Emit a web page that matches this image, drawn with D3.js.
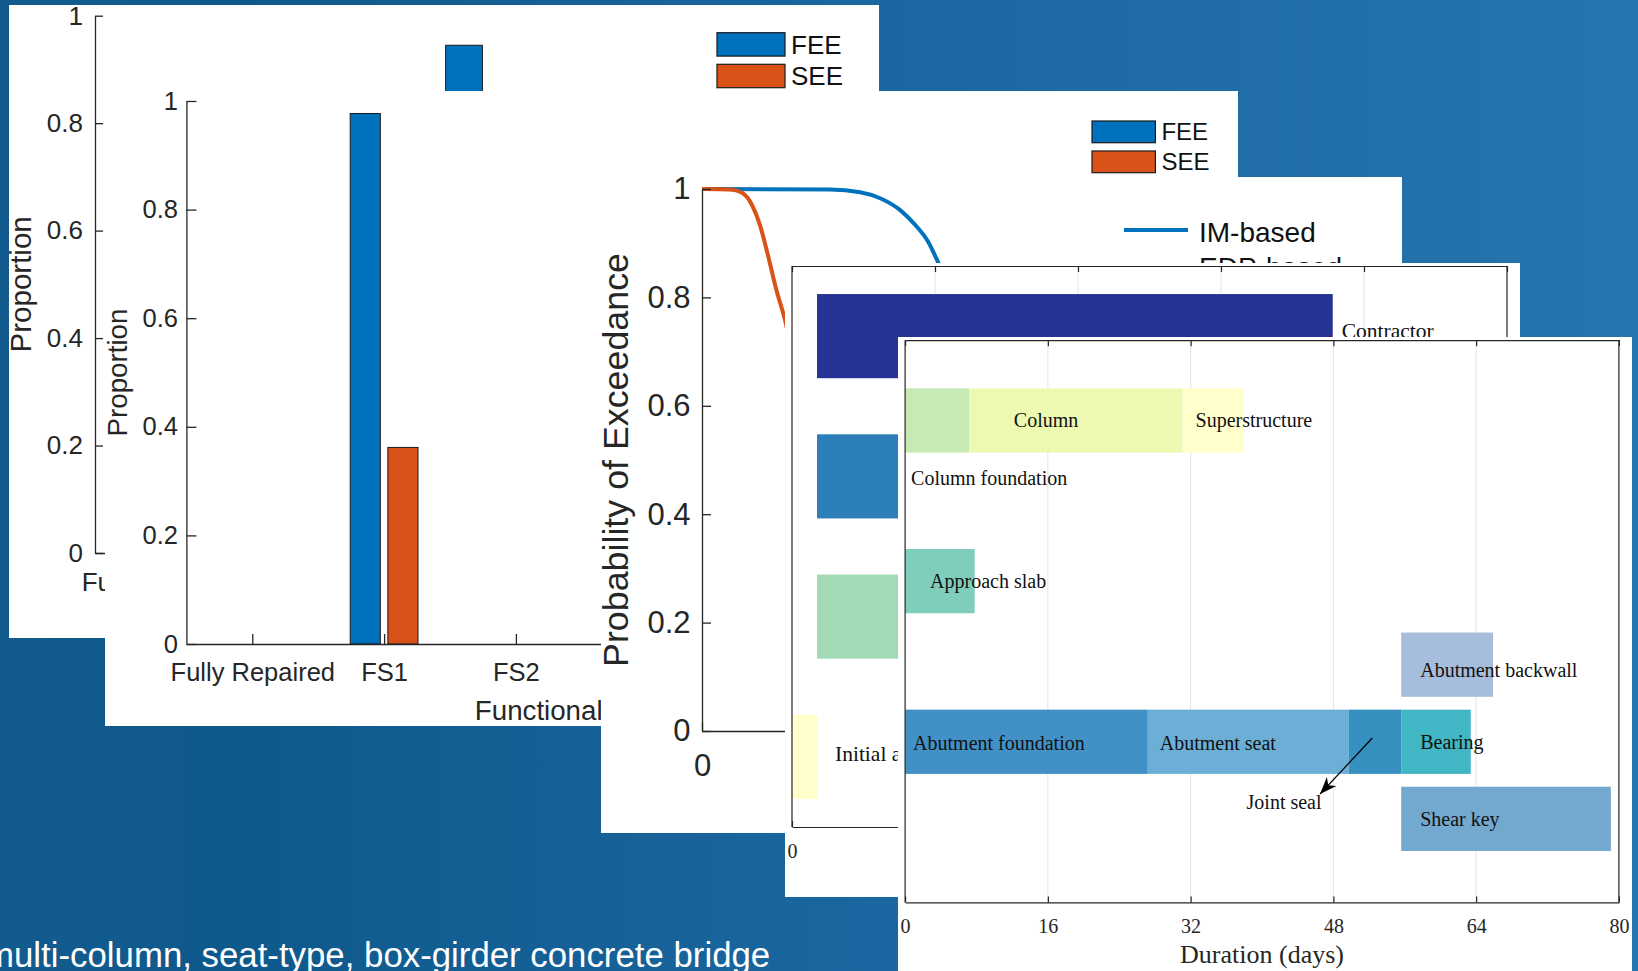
<!DOCTYPE html>
<html>
<head>
<meta charset="utf-8">
<script src="https://cdn.jsdelivr.net/npm/d3@7"></script>
<style>
  html, body { margin: 0; padding: 0; overflow: hidden; background: #1a64a0; }
  svg { display: block; }
</style>
</head>
<body>
<svg id="slide" width="1638" height="971"></svg>
<script>
// ---------------- data ----------------
// Functional-state distributions (grouped bar charts)
const stateLabels = ["Fully Repaired", "FS1", "FS2", "FS3", "FS4", "FS5"];
const hazardLevels = ["FEE", "SEE"];
const bridgeA_FEE = [0, 0, 0.945, 0, 0, 0];
const bridgeA_SEE = [0, 0, 0, 0, 0, 0];
const bridgeB_FEE = [0, 0.977, 0, 0, 0, 0];
const bridgeB_SEE = [0, 0.362, 0, 0, 0, 0];
const proportionTicks = [0, 0.2, 0.4, 0.6, 0.8, 1];

// Probability of exceedance curves
const curveNames = ["IM-based", "EDP-based"];
const imX  = [0, 0.575, 0.71, 0.80, 0.89, 0.957, 1.015, 1.06, 1.2, 1.4, 1.6, 1.8, 2.0, 2.4, 3.0];
const imP  = [1, 0.999, 0.994, 0.983, 0.961, 0.934, 0.903, 0.865, 0.72, 0.50, 0.30, 0.16, 0.08, 0.02, 0];
const edpX = [0, 0.126, 0.18, 0.225, 0.26, 0.296, 0.332, 0.373, 0.45, 0.55, 0.70, 0.90, 1.2, 1.6];
const edpP = [1, 0.999, 0.993, 0.970, 0.934, 0.878, 0.817, 0.758, 0.60, 0.40, 0.20, 0.07, 0.01, 0];
const exceedTicks = [0, 0.2, 0.4, 0.6, 0.8, 1];
const imTicks = [0, 0.5, 1, 1.5, 2, 2.5, 3];

// Impeding factors (days)
const impedingFactors = ["Contractor", "Engineering", "Financing", "Initial assessment"];
const impedingStart = [2.8, 2.8, 2.8, 0];
const impedingEnd   = [60.5, 30.0, 20.0, 2.8];

// Repair sequence (days)
const repairTasks = ["Column foundation", "Column", "Superstructure", "Approach slab",
  "Abutment backwall", "Abutment foundation", "Abutment seat", "Joint seal", "Bearing", "Shear key"];
const taskStart = [0, 7.2, 31.1, 0, 55.6, 0, 27.2, 49.7, 55.6, 55.6];
const taskEnd   = [7.2, 31.1, 37.9, 7.8, 65.9, 27.2, 49.7, 55.6, 63.4, 79.1];
const taskRow   = [1, 1, 1, 3, 4.04, 5, 5, 5, 5, 5.96];
const durationTicks = [0, 16, 32, 48, 64, 80];

const footnote = "multi-column, seat-type, box-girder concrete bridge";

// ---------------- styles ----------------
const SANS = "'Liberation Sans', Arial, Helvetica, sans-serif";
const SERIF = "'Liberation Serif', 'Times New Roman', serif";
const AXIS = "#262626";
const seriesColors = ["#0072BD", "#D95319"];
const curveColors = ["#0072BD", "#D95319"];
const impedingColors = ["#253494", "#2c7fb8", "#a1dab4", "#ffffcc"];
const taskColors = ["#c7e9b4", "#edf8b1", "#ffffcc", "#7fcdbb", "#a6bddb",
  "#4191c6", "#6baed6", "#3690c0", "#41b6c4", "#74a9cf"];

const svg = d3.select("#slide");
const defs = svg.append("defs");

// slide background
const grad = defs.append("linearGradient").attr("id", "slideBg")
  .attr("x1", 0).attr("y1", 0).attr("x2", 1).attr("y2", 0);
[[0, "#135b8f"], [0.14, "#0e598b"], [0.55, "#1b67a1"], [1, "#2675ae"]]
  .forEach(([o, c]) => grad.append("stop").attr("offset", o).attr("stop-color", c));
svg.append("rect").attr("width", 1638).attr("height", 971).attr("fill", "url(#slideBg)");

// white figure card, clipped to its own frame
function card(id, x, y, w, h) {
  defs.append("clipPath").attr("id", id)
    .append("rect").attr("x", x).attr("y", y).attr("width", w).attr("height", h);
  const g = svg.append("g").attr("clip-path", `url(#${id})`);
  g.append("rect").attr("x", x).attr("y", y).attr("width", w).attr("height", h).attr("fill", "#fff");
  return g;
}

function styleAxis(sel, size, family, width) {
  sel.attr("font-size", size).attr("font-family", family);
  sel.selectAll("text").attr("fill", AXIS);
  sel.selectAll("line, path").attr("stroke", AXIS).attr("stroke-width", width || 1.3);
}

// ---------------- grouped bar chart ----------------
function stateBarChart(g, cfg) {
  const n = stateLabels.length;
  const x = d3.scaleLinear().domain([cfg.xStart, n + 0.5]).range(cfg.xRange);
  const y = d3.scaleLinear().domain([0, 1]).range(cfg.yRange);
  const step = x(2) - x(1);
  const groupW = 2 / 3.5;
  const barW = groupW / 2 * 0.8 * step;
  const offsets = [-groupW / 4 * step, groupW / 4 * step];

  [cfg.fee, cfg.see].forEach((vals, s) => {
    g.append("g").selectAll("rect").data(vals).join("rect")
      .attr("x", (d, i) => x(i + 1) + offsets[s] - barW / 2)
      .attr("y", d => y(d))
      .attr("width", barW)
      .attr("height", d => y(0) - y(d))
      .attr("fill", seriesColors[s])
      .attr("stroke", "#1a1a1a").attr("stroke-width", 1);
  });

  const ya = g.append("g").attr("transform", `translate(${cfg.xRange[0]},0)`)
    .call(d3.axisLeft(y).tickValues(proportionTicks).tickFormat(d3.format("~g"))
      .tickSize(-cfg.tick).tickSizeOuter(0).tickPadding(cfg.pad));
  styleAxis(ya, cfg.font, SANS);

  const xa = g.append("g").attr("transform", `translate(0,${cfg.yRange[0]})`)
    .call(d3.axisBottom(x).tickValues(d3.range(1, n + 1)).tickFormat(i => stateLabels[i - 1])
      .tickSize(-cfg.tick).tickSizeOuter(0).tickPadding(cfg.xPad));
  styleAxis(xa, cfg.font, SANS);

  g.append("text")
    .attr("transform", `translate(${cfg.yLabelX},${(cfg.yRange[0] + cfg.yRange[1]) / 2}) rotate(-90)`)
    .attr("text-anchor", "middle").attr("font-family", SANS).attr("font-size", cfg.labelFont)
    .attr("fill", AXIS).text("Proportion");

  g.append("text")
    .attr("x", (x(0.5) + x(n + 0.5)) / 2).attr("y", cfg.xLabelY)
    .attr("text-anchor", "middle").attr("font-family", SANS).attr("font-size", cfg.labelFont)
    .attr("fill", AXIS).text("Functional States");

  // legend
  const lg = g.append("g");
  hazardLevels.forEach((name, s) => {
    const top = cfg.legend.y + s * cfg.legend.gap;
    lg.append("rect").attr("x", cfg.legend.x).attr("y", top)
      .attr("width", cfg.legend.w).attr("height", cfg.legend.h)
      .attr("fill", seriesColors[s]).attr("stroke", "#1a1a1a").attr("stroke-width", 1.2);
    lg.append("text").attr("x", cfg.legend.x + cfg.legend.w + 6)
      .attr("y", top + cfg.legend.h / 2).attr("dy", "0.36em")
      .attr("font-family", SANS).attr("font-size", cfg.legend.font).attr("fill", "#111")
      .text(name);
  });
}

// card 1 (rear bar chart)
const c1 = card("card1", 9, 5, 870, 633);
stateBarChart(c1, {
  fee: bridgeA_FEE, see: bridgeA_SEE,
  xStart: 0.565, xRange: [95, 1050.5], yRange: [553, 15.7],
  font: 26, labelFont: 29.5, tick: 8, pad: 12, xPad: 20,
  yLabelX: 31, xLabelY: 629,
  legend: { x: 717, y: 32.7, w: 68, h: 23.4, gap: 31.6, font: 26 }
});

// card 2 (front bar chart)
const c2 = card("card2", 105, 91, 1133, 635);
stateBarChart(c2, {
  fee: bridgeB_FEE, see: bridgeB_SEE,
  xStart: 0.5, xRange: [186.4, 977.2], yRange: [644, 101],
  font: 25.5, labelFont: 27.7, tick: 10, pad: 8.5, xPad: 19,
  yLabelX: 127, xLabelY: 720,
  legend: { x: 1092, y: 121, w: 63.4, h: 21.7, gap: 30, font: 24 }
});

// ---------------- card 3: probability of exceedance ----------------
const c3 = card("card3", 601, 177, 801, 656);
{
  const x = d3.scaleLinear().domain([0, 3]).range([702, 1370]);
  const y = d3.scaleLinear().domain([0, 1]).range([731, 189]);
  const line = d3.line().x(d => x(d[0])).y(d => y(d[1])).curve(d3.curveMonotoneX);
  const series = [d3.zip(imX, imP), d3.zip(edpX, edpP)];
  series.forEach((pts, k) => {
    c3.append("path").datum(pts).attr("d", line)
      .attr("fill", "none").attr("stroke", curveColors[k]).attr("stroke-width", 4)
      .attr("stroke-linejoin", "round");
  });
  const ya = c3.append("g").attr("transform", `translate(${x(0)},0)`)
    .call(d3.axisLeft(y).tickValues(exceedTicks).tickFormat(d3.format("~g"))
      .tickSize(-9).tickSizeOuter(0).tickPadding(11.5));
  styleAxis(ya, 31, SANS);
  const xa = c3.append("g").attr("transform", `translate(0,${y(0)})`)
    .call(d3.axisBottom(x).tickValues(imTicks).tickFormat(d3.format("~g"))
      .tickSize(-9).tickSizeOuter(0).tickPadding(22.6));
  styleAxis(xa, 31, SANS);
  c3.append("text")
    .attr("transform", `translate(628,${(y(0) + y(1)) / 2}) rotate(-90)`)
    .attr("text-anchor", "middle").attr("font-family", SANS).attr("font-size", 35.8)
    .attr("fill", AXIS).text("Probability of Exceedance");
  curveNames.forEach((name, k) => {
    const yy = 230 + k * 35;
    c3.append("line").attr("x1", 1124).attr("x2", 1188).attr("y1", yy).attr("y2", yy)
      .attr("stroke", curveColors[k]).attr("stroke-width", 4);
    c3.append("text").attr("x", 1199).attr("y", yy + 12)
      .attr("font-family", SANS).attr("font-size", 28).attr("fill", "#111").text(name);
  });
}

// ---------------- Gantt helper ----------------
function ganttFrame(g, x, y, showLabels) {
  const [x0, x1] = x.range();
  const [y0, y1] = y.range();
  g.append("g").selectAll("line").data(durationTicks.slice(1, -1)).join("line")
    .attr("x1", d => x(d)).attr("x2", d => x(d)).attr("y1", y0).attr("y2", y1)
    .attr("stroke", "#e4e4e4").attr("stroke-width", 1);
  return () => {
    const bottom = g.append("g").attr("transform", `translate(0,${y1})`)
      .call(d3.axisBottom(x).tickValues(durationTicks).tickFormat(showLabels ? d3.format("d") : "")
        .tickSize(-6).tickSizeOuter(0).tickPadding(16.4));
    styleAxis(bottom, 20, SERIF, 1.2);
    const top = g.append("g").attr("transform", `translate(0,${y0})`)
      .call(d3.axisTop(x).tickValues(durationTicks).tickFormat("").tickSize(-6).tickSizeOuter(0));
    styleAxis(top, 20, SERIF, 1.2);
    [x0, x1].forEach(xx => g.append("line").attr("x1", xx).attr("x2", xx)
      .attr("y1", y0).attr("y2", y1).attr("stroke", AXIS).attr("stroke-width", 1.2));
  };
}

// ---------------- card 4: impeding factors ----------------
const c4 = card("card4", 785, 263, 735, 634);
{
  const x = d3.scaleLinear().domain([0, 80]).range([792, 1507]);
  const y = d3.scaleLinear().domain([0.5, 4.5]).range([266, 827]);
  const finish = ganttFrame(c4, x, y, true);
  const lane = y(1) - y(0);
  const labelOffset = { "Contractor": [9, 2], "Engineering": [9, 5], "Financing": [9, 5], "Initial assessment": [18, 4] };
  impedingFactors.forEach((name, i) => {
    c4.append("rect")
      .attr("x", x(impedingStart[i])).attr("width", x(impedingEnd[i]) - x(impedingStart[i]))
      .attr("y", y(i + 1) - 0.3 * lane).attr("height", 0.6 * lane)
      .attr("fill", impedingColors[i]);
  });
  finish();
  impedingFactors.forEach((name, i) => {
    const [dx, dy] = labelOffset[name];
    c4.append("text").attr("x", x(impedingEnd[i]) + dx).attr("y", y(i + 1) + dy)
      .attr("font-family", SERIF).attr("font-size", 21.5).attr("fill", "#111").text(name);
  });
}

// ---------------- card 5: repair sequence ----------------
const c5 = card("card5", 898, 337, 734, 634);
{
  const x = d3.scaleLinear().domain([0, 80]).range([905.1, 1618.9]);
  const y = d3.scaleLinear().domain([0, 7]).range([340.2, 902.4]);
  const finish = ganttFrame(c5, x, y, true);
  const lane = y(1) - y(0);
  repairTasks.forEach((name, i) => {
    c5.append("rect")
      .attr("x", x(taskStart[i])).attr("width", x(taskEnd[i]) - x(taskStart[i]))
      .attr("y", y(taskRow[i]) - 0.4 * lane).attr("height", 0.8 * lane)
      .attr("fill", taskColors[i]);
  });
  finish();

  const labelOffset = {
    "Column foundation": [6, 64], "Column": [44.5, 6], "Superstructure": [13, 6.5],
    "Approach slab": [25, 6.5], "Abutment backwall": [19, 12], "Abutment foundation": [8, 8.5],
    "Abutment seat": [12, 8.5], "Joint seal": [-102, 67], "Bearing": [19, 7.5], "Shear key": [19, 7]
  };
  repairTasks.forEach((name, i) => {
    const [dx, dy] = labelOffset[name];
    c5.append("text").attr("x", x(taskStart[i]) + dx).attr("y", y(taskRow[i]) + dy)
      .attr("font-family", SERIF).attr("font-size", 20).attr("fill", "#111").text(name);
  });

  // pointer to the short joint-seal segment
  defs.append("marker").attr("id", "arrowHead").attr("markerUnits", "userSpaceOnUse")
    .attr("viewBox", "-18 -8 20 16").attr("refX", 0).attr("refY", 0)
    .attr("markerWidth", 20).attr("markerHeight", 16).attr("orient", "auto")
    .append("path").attr("d", "M0,0 L-17,-6.5 L-12,0 L-17,6.5 Z").attr("fill", "#000");
  const js = repairTasks.indexOf("Joint seal");
  const ax = x(taskStart[js]), ay = y(taskRow[js]);
  c5.append("line").attr("x1", ax + 23.8).attr("y1", ay - 3.8).attr("x2", ax - 28.5).attr("y2", ay + 52.2)
    .attr("stroke", "#000").attr("stroke-width", 1.2).attr("marker-end", "url(#arrowHead)");

  c5.append("text").attr("x", (x(0) + x(80)) / 2).attr("y", 962.5).attr("text-anchor", "middle")
    .attr("font-family", SERIF).attr("font-size", 26).attr("fill", AXIS).text("Duration (days)");
}

// ---------------- slide footnote ----------------
svg.append("text").attr("x", -15).attr("y", 967)
  .attr("font-family", SANS).attr("font-size", 34.8).attr("fill", "#ffffff").text(footnote);
</script>
</body>
</html>
